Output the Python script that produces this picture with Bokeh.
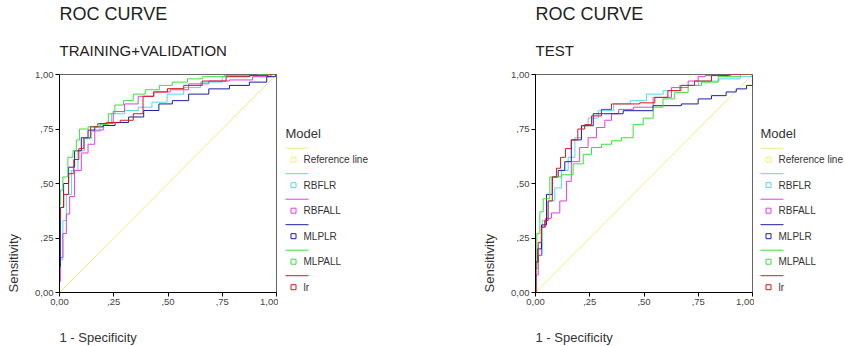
from bokeh.plotting import figure
from bokeh.models import Title, FixedTicker, Range1d
from bokeh.layouts import row
from bokeh.embed import file_html
from bokeh.resources import INLINE
from bokeh.core.properties import value

FONT = "Liberation Sans"

# ---------------- data ----------------
MODELS = ["Reference line", "RBFLR", "RBFALL", "MLPLR", "MLPALL", "lr"]
COLORS = ["#f0ee78", "#4fdbe6", "#e03ee0", "#1c1ca8", "#3ede3e", "#d41a1a"]

TICKS = [0.0, 0.25, 0.5, 0.75, 1.0]
TICK_LABELS = ["0,00", ",25", ",50", ",75", "1,00"]

REF_X = [0.0, 1.0]
REF_Y = [0.0, 1.0]

# TRAINING+VALIDATION
tv_rbflr_x = [0, 0, 0.008, 0.023, 0.04, 0.07, 0.10, 0.13, 0.163, 0.21, 0.27, 0.33, 0.395, 0.457, 0.535, 0.61, 0.69, 0.81, 0.95, 1.0]
tv_rbflr_y = [0, 0.10, 0.15, 0.33, 0.45, 0.56, 0.65, 0.705, 0.74, 0.775, 0.82, 0.835, 0.85, 0.873, 0.91, 0.94, 0.965, 0.99, 0.995, 1.0]
tv_rbfall_x = [0, 0, 0.008, 0.023, 0.04, 0.054, 0.085, 0.116, 0.147, 0.178, 0.225, 0.27, 0.33, 0.395, 0.47, 0.55, 0.64, 0.736, 0.83, 0.95, 1.0]
tv_rbfall_y = [0, 0.05, 0.16, 0.27, 0.36, 0.44, 0.56, 0.64, 0.68, 0.745, 0.775, 0.83, 0.865, 0.90, 0.92, 0.93, 0.957, 0.97, 0.975, 0.99, 1.0]
tv_mlplr_x = [0, 0, 0.008, 0.03, 0.054, 0.085, 0.116, 0.147, 0.178, 0.225, 0.287, 0.35, 0.426, 0.49, 0.55, 0.64, 0.736, 0.83, 0.92, 0.99, 1.0]
tv_mlplr_y = [0, 0.12, 0.39, 0.50, 0.575, 0.65, 0.71, 0.745, 0.76, 0.766, 0.78, 0.805, 0.835, 0.865, 0.88, 0.91, 0.934, 0.95, 0.965, 0.99, 1.0]
tv_mlpall_x = [0, 0, 0.008, 0.023, 0.054, 0.07, 0.085, 0.10, 0.163, 0.21, 0.24, 0.27, 0.32, 0.36, 0.43, 0.49, 0.55, 0.63, 0.69, 0.83, 1.0]
tv_mlpall_y = [0, 0.40, 0.47, 0.53, 0.62, 0.65, 0.70, 0.75, 0.76, 0.77, 0.82, 0.86, 0.88, 0.91, 0.93, 0.95, 0.965, 0.98, 0.99, 0.995, 1.0]
tv_lr_x = [0, 0, 0.008, 0.03, 0.054, 0.078, 0.10, 0.124, 0.163, 0.19, 0.24, 0.32, 0.36, 0.41, 0.46, 0.535, 0.61, 0.705, 0.83, 0.92, 1.0]
tv_lr_y = [0, 0.33, 0.39, 0.45, 0.545, 0.61, 0.66, 0.71, 0.76, 0.775, 0.78, 0.79, 0.82, 0.90, 0.92, 0.935, 0.95, 0.97, 0.99, 0.995, 1.0]

# TEST
te_rbflr_x = [0, 0.005, 0.02, 0.043, 0.074, 0.104, 0.135, 0.166, 0.197, 0.227, 0.258, 0.32, 0.40, 0.473, 0.55, 0.627, 0.70, 0.80, 0.89, 0.995, 1.0]
te_rbflr_y = [0, 0.11, 0.17, 0.33, 0.42, 0.48, 0.56, 0.62, 0.71, 0.765, 0.80, 0.834, 0.865, 0.88, 0.91, 0.926, 0.95, 0.97, 0.98, 0.99, 1.0]
te_rbfall_x = [0, 0.005, 0.02, 0.035, 0.058, 0.089, 0.135, 0.15, 0.18, 0.227, 0.258, 0.304, 0.335, 0.366, 0.40, 0.504, 0.58, 0.673, 0.734, 0.765, 0.80, 1.0]
te_rbfall_y = [0, 0.08, 0.17, 0.30, 0.34, 0.365, 0.42, 0.51, 0.60, 0.665, 0.71, 0.757, 0.79, 0.82, 0.84, 0.85, 0.895, 0.94, 0.97, 0.99, 0.995, 1.0]
te_mlplr_x = [0, 0, 0.02, 0.035, 0.066, 0.089, 0.12, 0.15, 0.18, 0.243, 0.289, 0.335, 0.473, 0.61, 0.734, 0.765, 0.857, 0.90, 0.95, 0.995, 1.0, 1.0]
te_mlplr_y = [0, 0.14, 0.20, 0.31, 0.45, 0.53, 0.56, 0.60, 0.70, 0.765, 0.82, 0.82, 0.834, 0.857, 0.865, 0.888, 0.903, 0.92, 0.934, 0.95, 0.95, 1.0]
te_mlpall_x = [0, 0, 0.012, 0.028, 0.043, 0.089, 0.15, 0.197, 0.243, 0.273, 0.335, 0.366, 0.427, 0.473, 0.52, 0.565, 0.61, 0.673, 0.734, 0.796, 0.888, 1.0]
te_mlpall_y = [0, 0.11, 0.27, 0.37, 0.43, 0.53, 0.54, 0.59, 0.634, 0.665, 0.68, 0.696, 0.71, 0.77, 0.80, 0.85, 0.888, 0.918, 0.95, 0.965, 0.99, 1.0]
te_lr_x = [0, 0.005, 0.02, 0.035, 0.05, 0.066, 0.089, 0.104, 0.127, 0.15, 0.18, 0.21, 0.243, 0.273, 0.335, 0.366, 0.44, 0.52, 0.58, 0.64, 0.70, 0.765, 0.857, 0.92, 1.0]
te_lr_y = [0, 0.14, 0.23, 0.30, 0.33, 0.42, 0.53, 0.57, 0.62, 0.66, 0.70, 0.75, 0.77, 0.81, 0.84, 0.865, 0.865, 0.87, 0.895, 0.926, 0.95, 0.97, 0.995, 1.0, 1.0]

TV_CURVES = [(tv_rbflr_x, tv_rbflr_y), (tv_rbfall_x, tv_rbfall_y), (tv_mlplr_x, tv_mlplr_y),
             (tv_mlpall_x, tv_mlpall_y), (tv_lr_x, tv_lr_y)]
TE_CURVES = [(te_rbflr_x, te_rbflr_y), (te_rbfall_x, te_rbfall_y), (te_mlplr_x, te_mlplr_y),
             (te_mlpall_x, te_mlpall_y), (te_lr_x, te_lr_y)]

FIG_H = 346
TOP = 74      # frame top (page px)
BOTTOM = 54   # space below frame
LEFT = 58
FRAME_BOTTOM = FIG_H - BOTTOM


def roc_panel(subtitle, curves):
    p = figure(width=LEFT + 218 + 2, height=FIG_H, x_range=Range1d(0, 1), y_range=Range1d(0, 1),
               output_backend="svg", toolbar_location=None,
               min_border_left=LEFT, min_border_right=2,
               min_border_top=TOP, min_border_bottom=BOTTOM)
    p.grid.visible = False
    p.outline_line_color = "#666666"
    p.outline_line_width = 1
    for ax in (p.xaxis[0], p.yaxis[0]):
        ax.ticker = FixedTicker(ticks=TICKS)
        ax.major_label_overrides = {t: l for t, l in zip(TICKS, TICK_LABELS)}
        ax.minor_tick_line_color = None
        ax.major_tick_in = 0
        ax.major_tick_out = 4
        ax.major_tick_line_color = "black"
        ax.axis_line_color = "black"
        ax.major_label_standoff = 2
        ax.major_label_text_font = FONT
        ax.major_label_text_font_size = "9.5px"
        ax.major_label_text_color = "#444444"
        ax.axis_label = " "   # blank spacer between tick labels and the axis titles
    p.yaxis[0].major_label_orientation = "horizontal"
    p.xaxis[0].axis_label_text_font_size = "10px"
    p.xaxis[0].axis_label_standoff = 5
    p.yaxis[0].axis_label_text_font_size = "5px"
    p.yaxis[0].axis_label_standoff = 0

    p.line(REF_X, REF_Y, color=COLORS[0], line_width=1)
    for (xs, ys), c in zip(curves, COLORS[1:]):
        p.step(xs, ys, mode="center", color=c, line_width=1)

    p.add_layout(Title(text=subtitle, align="left", text_font=FONT, text_font_size="15px",
                       text_font_style="normal", text_color="#222222", standoff=32), "above")
    p.add_layout(Title(text="ROC CURVE", align="left", text_font=FONT, text_font_size="18px",
                       text_font_style="normal", text_color="#222222", standoff=0), "above")
    p.add_layout(Title(text="1 - Specificity", align="left", text_font=FONT, text_font_size="13px",
                       text_font_style="normal", text_color="#333333", standoff=2), "below")
    p.add_layout(Title(text="Sensitivity", align="left", text_font=FONT, text_font_size="13px",
                       text_font_style="normal", text_color="#333333", standoff=6), "left")
    return p


def legend_panel(width, x0):
    # y coordinates are page pixels, measured from the top
    lg = figure(width=width, height=FIG_H, x_range=Range1d(0, width),
                y_range=Range1d(FRAME_BOTTOM, TOP),
                output_backend="svg", toolbar_location=None,
                x_axis_location=None, y_axis_location=None,
                min_border_left=0, min_border_right=0,
                min_border_top=TOP, min_border_bottom=BOTTOM)
    lg.grid.visible = False
    lg.outline_line_color = None
    n = len(MODELS)
    line_y = [147.7 + 25.5 * i for i in range(n)]
    mark_y = [y + 11.5 for y in line_y]
    lg.text(x=[x0], y=[132.7], text=["Model"], text_font=value(FONT), text_font_size=value("13px"),
            text_baseline="middle", text_color="#333333")
    lg.segment(x0=[x0] * n, y0=line_y, x1=[x0 + 23] * n, y1=line_y, color=COLORS, line_width=1)
    lg.scatter(x=[x0 + 8] * n, y=mark_y, marker="square", size=5, fill_color=None,
               line_color=COLORS, line_width=1)
    lg.text(x=[x0 + 18] * n, y=mark_y, text=MODELS, text_font=value(FONT),
            text_font_size=value("10px"), text_baseline="middle", text_color="#333333")
    return lg


p1 = roc_panel("TRAINING+VALIDATION", TV_CURVES)
l1 = legend_panel(198, 7)
p2 = roc_panel("TEST", TE_CURVES)
l2 = legend_panel(91, 6)

layout = row(p1, l1, p2, l2, spacing=0)
open("out.html", "w").write(file_html(layout, INLINE))
